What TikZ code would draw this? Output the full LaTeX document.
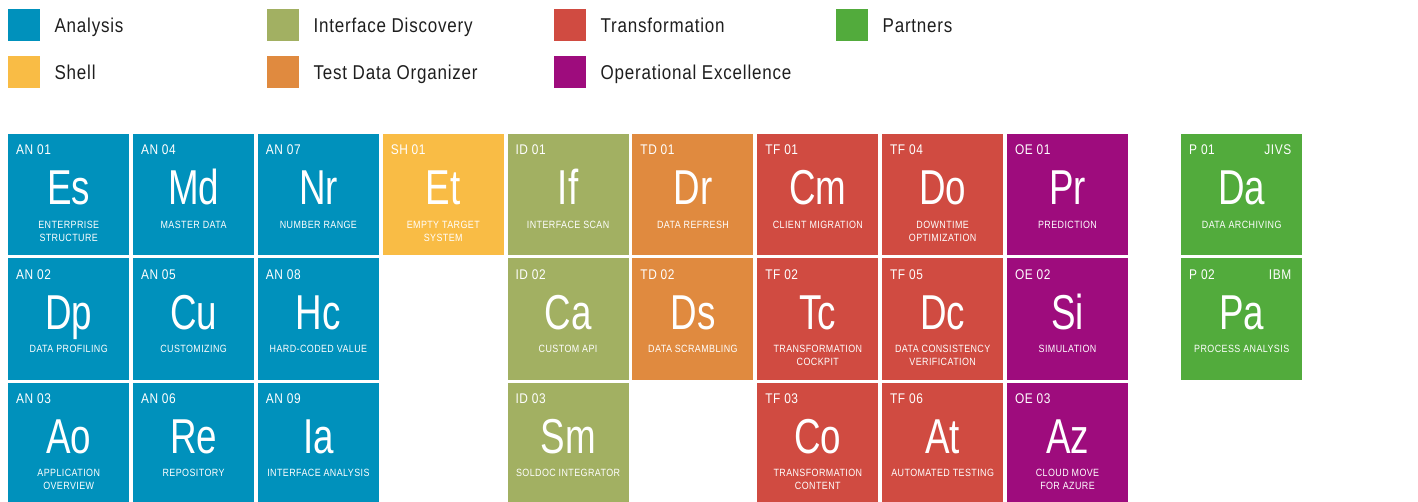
\documentclass[tikz,border=0pt]{standalone}
\usepackage{fontspec}
\setmainfont{Liberation Sans}[FakeStretch=0.85, LetterSpace=4]
\newfontfamily\symbolfont{Liberation Sans}[FakeStretch=0.75]
\usetikzlibrary{positioning}

\definecolor{analysis}{RGB}{0,145,188}
\definecolor{shell}{RGB}{249,188,69}
\definecolor{interface}{RGB}{162,176,98}
\definecolor{testdata}{RGB}{224,138,63}
\definecolor{transform}{RGB}{208,75,65}
\definecolor{operational}{RGB}{158,12,125}
\definecolor{partners}{RGB}{82,171,60}
\definecolor{keyfont}{RGB}{30,30,30}

\begin{document}
\begin{tikzpicture}[
    x=1pt, y=-1pt, %% one unit per pixel, y pointing down
    tile/.style={
        rectangle,
        anchor=north west,
        minimum size=121pt,
        inner sep=0pt
    },
    code/.style={
        anchor=base west,
        inner sep=0pt,
        text=white,
        font=\fontsize{14}{16}\selectfont
    },
    partner/.style={
        code,
        anchor=base east
    },
    symbol/.style={
        anchor=base,
        inner sep=0pt,
        text=white,
        font=\symbolfont\fontsize{49}{50}\selectfont
    },
    caption/.style={
        anchor=north,
        inner sep=0pt,
        align=center,
        text=white,
        font=\fontsize{10.5}{13}\selectfont
    },
    key/.style={
        rectangle,
        anchor=north west,
        minimum size=32pt,
        inner sep=0pt
    },
    keytext/.style={
        right=14pt,
        inner sep=0pt,
        text height=14.3pt,
        text depth=0pt,
        text=keyfont,
        font=\fontsize{20}{22}\selectfont
    }
]
\useasboundingbox (0,0) rectangle (1418,502);

%% Legend
\node[key, fill=analysis] (key_an) at (8,9) {};
\node[keytext, right=14pt of key_an] {Analysis};
\node[key, fill=shell] (key_sh) at (8,56) {};
\node[keytext, right=14pt of key_sh] {Shell};
\node[key, fill=interface] (key_id) at (267,9) {};
\node[keytext, right=14pt of key_id] {Interface Discovery};
\node[key, fill=testdata] (key_td) at (267,56) {};
\node[keytext, right=14pt of key_td] {Test Data Organizer};
\node[key, fill=transform] (key_tf) at (554,9) {};
\node[keytext, right=14pt of key_tf] {Transformation};
\node[key, fill=operational] (key_oe) at (554,56) {};
\node[keytext, right=14pt of key_oe] {Operational Excellence};
\node[key, fill=partners] (key_p) at (836,9) {};
\node[keytext, right=14pt of key_p] {Partners};

%% Tiles
\foreach \col/\row/\clr/\code/\sym/\desc in {
    0/0/analysis/AN 01/Es/{ENTERPRISE\\STRUCTURE},
    0/1/analysis/AN 02/Dp/{DATA PROFILING},
    0/2/analysis/AN 03/Ao/{APPLICATION\\OVERVIEW},
    1/0/analysis/AN 04/Md/{MASTER DATA},
    1/1/analysis/AN 05/Cu/{CUSTOMIZING},
    1/2/analysis/AN 06/Re/{REPOSITORY},
    2/0/analysis/AN 07/Nr/{NUMBER RANGE},
    2/1/analysis/AN 08/Hc/{HARD-CODED VALUE},
    2/2/analysis/AN 09/Ia/{INTERFACE ANALYSIS},
    3/0/shell/SH 01/Et/{EMPTY TARGET\\SYSTEM},
    4/0/interface/ID 01/If/{INTERFACE SCAN},
    4/1/interface/ID 02/Ca/{CUSTOM API},
    4/2/interface/ID 03/Sm/{SOLDOC INTEGRATOR},
    5/0/testdata/TD 01/Dr/{DATA REFRESH},
    5/1/testdata/TD 02/Ds/{DATA SCRAMBLING},
    6/0/transform/TF 01/Cm/{CLIENT MIGRATION},
    6/1/transform/TF 02/Tc/{TRANSFORMATION\\COCKPIT},
    6/2/transform/TF 03/Co/{TRANSFORMATION\\CONTENT},
    7/0/transform/TF 04/Do/{DOWNTIME\\OPTIMIZATION},
    7/1/transform/TF 05/Dc/{DATA CONSISTENCY\\VERIFICATION},
    7/2/transform/TF 06/At/{AUTOMATED TESTING},
    8/0/operational/OE 01/Pr/{PREDICTION},
    8/1/operational/OE 02/Si/{SIMULATION},
    8/2/operational/OE 03/Az/{CLOUD MOVE\\FOR AZURE}}
{
    \node[tile, fill=\clr] (tile\col\row) at ({8+124.85*\col},{134+124.3*\row}) {};
    \node[code] at ([shift={(8,21)}]tile\col\row.north west) {\code};
    \node[symbol] at ([shift={(0,71)}]tile\col\row.north) {\sym};
    \node[caption] at ([shift={(0,86.5)}]tile\col\row.north) {\desc};
}

%% Partner tiles
\node[tile, fill=partners] (p01) at (1181,134) {};
\node[code] at ([shift={(8,21)}]p01.north west) {P 01};
\node[partner] at ([shift={(-11,21)}]p01.north east) {JIVS};
\node[symbol] at ([shift={(0,71)}]p01.north) {Da};
\node[caption] at ([shift={(0,86.5)}]p01.north) {DATA ARCHIVING};

\node[tile, fill=partners] (p02) at (1181,258.3) {};
\node[code] at ([shift={(8,21)}]p02.north west) {P 02};
\node[partner] at ([shift={(-11,21)}]p02.north east) {IBM};
\node[symbol] at ([shift={(0,71)}]p02.north) {Pa};
\node[caption] at ([shift={(0,86.5)}]p02.north) {PROCESS ANALYSIS};

\end{tikzpicture}
\end{document}
